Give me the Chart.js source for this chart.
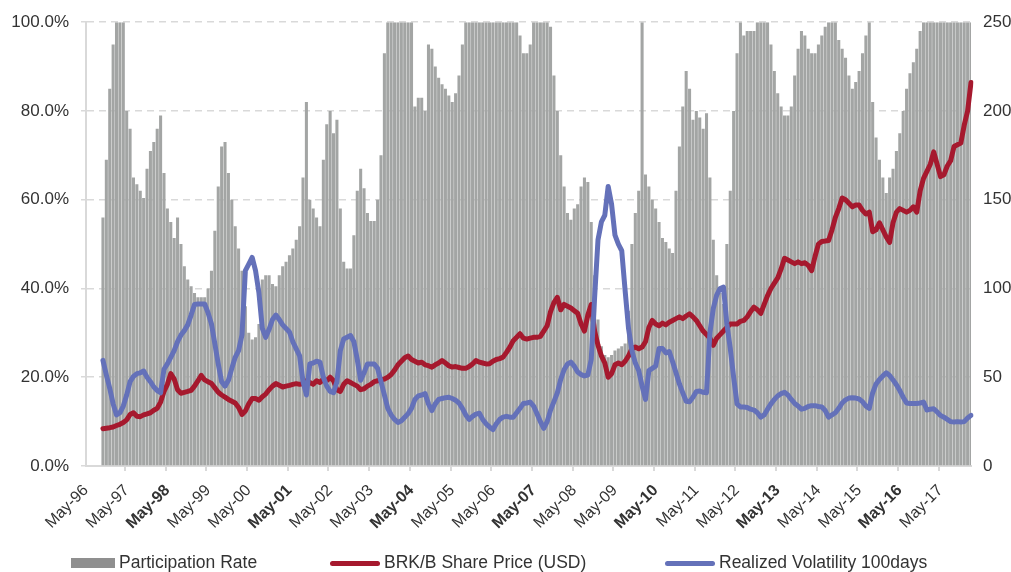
<!DOCTYPE html>
<html>
<head>
<meta charset="utf-8">
<script src="https://cdn.jsdelivr.net/npm/chart.js@4.4.1/dist/chart.umd.min.js"></script>
<style>
  html, body { margin: 0; padding: 0; background: #fff; }
  #wrap { position: relative; width: 1011px; height: 572px; }
  #legend { position: absolute; left: 0; top: 552px; width: 1011px; height: 20px;
            font-family: 'Liberation Sans', Arial, sans-serif; font-size: 17.5px; color: #333; }
  #legend .item { position: absolute; top: 0; height: 20px; line-height: 20px; white-space: nowrap; }
  #legend .sw { display: inline-block; vertical-align: middle; margin-right: 4px; }
  #legend .bar { width: 44px; height: 10px; }
  #legend .line { width: 50px; height: 5px; border-radius: 3px; }
</style>
</head>
<body>
<div id="wrap"><canvas id="chart"></canvas><div id="legend"></div></div>
<script>
// monthly points, May-96 .. Feb-18 (one row per year starting in May)
var monthNames = ["Jan","Feb","Mar","Apr","May","Jun","Jul","Aug","Sep","Oct","Nov","Dec"];
var firstYear = 1996, firstMonth = 4, nMonths = 262;

// participation rate, % (bars, left axis)
var participation = [
  null,null,null,null,null, 56, 69, 85, 95, 100, 100, 100,
  80, 76, 65, 63.5, 62, 60.4, 67, 71, 73, 76, 79, 66,
  58, 55, 51.4, 56, 50, 45, 42, 40.5, 39, 38, 38, 38,
  40, 44, 53, 63, 72, 73, 66, 60, 54, 49, 44, 36,
  30, 28.5, 29, 32, 42, 43, 43, 41, 40.5, 43, 45, 46,
  47.5, 49, 51, 54, 65, 82, 60, 58, 56, 54, 69, 77,
  80, 75, 78, 58, 46, 44.5, 44.5, 52, 62, 67, 62.6, 57,
  55.2, 55.2, 60, 70, 93, 100, 100, 100, 100, 100, 100, 100,
  100, 81, 83, 83, 80, 95, 94, 90, 87.5, 86, 85, 83.5,
  82, 84, 88, 95, 100, 100, 100, 100, 100, 100, 100, 100,
  100, 100, 100, 100, 100, 100, 100, 100, 97, 93, 93, 95,
  100, 100, 100, 100, 100, 99, 88, 80, 70, 63, 57, 55.5,
  58, 59, 63, 65, 64, 55, 43, 33, 27, 25, 24.5, 25,
  26, 26.5, 27, 27.6, 35, 50, 57, 62, 100, 65.7, 63, 60,
  58, 55, 51.4, 50.5, 49, 48, 62, 72, 81, 89, 85, 78,
  80, 78.5, 76, 79.5, 65, 51, 43, 39, 36.5, 50, 62, 80,
  93, 100, 97, 98, 98, 98, 100, 100, 100, 100, 95, 89,
  84, 81, 79, 79, 81, 88, 94, 98, 97, 94, 93, 93,
  95, 97, 99, 100, 100, 100, 96, 94, 92, 88, 85, 86.5,
  89, 93, 97, 100, 82, 74, 69, 65, 61.5, 65, 67, 71,
  75, 80, 85, 88.5, 91, 94, 98, 100, 100, 100, 100, 100,
  100, 100, 100, 100, 100, 100, 100, 100, 100, 100
];

// BRK/B share price, USD (right axis)
var sharePrice = [
  null,null,null,null,null, 21, 21.3, 21.6, 22, 22.8, 23.5, 24.5,
  26, 29, 30, 28, 27.8, 28.8, 29.4, 30, 31.4, 32.5, 36, 42,
  46, 52, 49, 43, 41, 41.5, 42, 42.6, 45, 48, 51, 48.5,
  47.5, 46.5, 44, 41.5, 40, 38.8, 37.5, 36.5, 35.5, 33, 29, 31,
  35, 38, 38, 37, 39, 40.5, 43, 45, 46.4, 45.5, 44.5, 45,
  45.4, 46, 46.4, 46, 46.4, 48, 47, 46, 48, 47, 49, 48,
  50, 48, 43, 42, 46, 48, 47, 46, 45, 43, 43.5, 45,
  46, 47.5, 48, 48.5, 49, 50, 51.5, 54, 57, 59, 61, 62,
  60, 59, 58, 58.5, 57, 56.5, 55.7, 57, 58, 59.4, 58, 56.5,
  55.7, 56, 55.5, 55, 55, 56, 57.5, 59.4, 58.5, 58, 57.5, 57.6,
  59, 60, 60.5, 61.3, 64, 67, 70.6, 72.5, 74.5, 72, 71.5, 72,
  72.5, 72.5, 73, 76, 79, 87, 92, 95, 88, 91, 90, 89,
  87.5, 86, 80, 76, 85, 91, 76, 68, 62, 58, 50, 52,
  57, 58, 57, 59, 62, 66, 67, 66, 67, 70, 78, 82,
  80, 79, 80.5, 79.5, 81, 82, 83, 84, 83, 84.5, 85.7, 84,
  82, 79, 76, 74, 72, 68, 72, 74, 76, 78, 80, 80,
  80, 81.5, 82, 84, 87, 89.5, 88, 86, 91, 96, 100, 103,
  106, 111, 117, 116, 115, 114, 115, 114, 114.5, 113, 110, 118,
  125, 126.5, 126.7, 127, 133, 140, 145, 151, 150, 148, 146, 147,
  147, 144, 142, 143, 132, 133, 137, 133, 129, 126, 137, 143,
  145, 144, 143, 144, 146, 143, 155, 162, 166, 170, 177, 170,
  163, 164, 169, 172, 180, 181, 182, 192, 200, 216
];

// realized volatility 100 days, % (left axis)
var volatility = [
  null,null,null,null,null, 23.8, 20.5, 17.5, 14, 11.5, 12, 13.5,
  16, 19, 20.2, 20.8, 21, 21.4, 20, 19, 17.8, 17, 16.5, 21.8,
  23, 24.5, 26, 28, 29.5, 30.5, 31.8, 34, 36.4, 36.5, 36.5, 36.5,
  34.5, 32, 27.5, 23, 19, 18, 19.3, 22, 24.5, 26, 29.5, 44,
  45.5, 47, 44, 39, 31, 29, 30.8, 33, 34, 33, 31.8, 31,
  30.2, 28, 26.4, 24.8, 19, 16, 23, 23.2, 23.6, 23.4, 20, 18,
  16.8, 16.5, 19, 26, 28.6, 29, 29.4, 28, 24, 19.3, 21, 23,
  23, 23, 22, 19, 16, 13, 11.5, 10.5, 9.8, 10.2, 11, 11.8,
  13, 15, 15.8, 16, 16.3, 14, 12.5, 14, 15, 15.2, 15.4, 15.5,
  15.2, 14.8, 14.2, 13, 11.5, 10.5, 11.2, 11.7, 11.9, 10.5, 9.5, 8.8,
  8.2, 9.5, 10.5, 11, 11.2, 11, 11, 12, 13, 14.1, 14.2, 14.4,
  13.5, 11.8, 10, 8.5, 10, 12.6, 14.5, 16.5, 19.5, 21.7, 23, 23.4,
  22.5, 21.2, 20.6, 20.3, 20.5, 24, 38, 51, 55, 56.5, 63, 59,
  52, 50, 48.5, 39.5, 31, 26, 23.2, 21.5, 18, 15, 21.5, 22,
  22.5, 26.5, 26.5, 25.5, 25.8, 23.5, 21, 18.5, 16.5, 14.6, 14.5, 15.5,
  16.8, 16.9, 16.6, 16.5, 30, 35.5, 38.5, 40, 40.3, 32, 26.5, 20,
  14, 13.3, 13.3, 13.2, 12.8, 12.6, 12, 11, 11.5, 12.8, 14, 15,
  15.8, 16.3, 16.6, 16, 15, 14.1, 13.5, 12.8, 13, 13.4, 13.6, 13.6,
  13.4, 13.3, 12.5, 11, 11.5, 12, 13, 14.2, 14.9, 15.3, 15.4, 15.3,
  15.1, 14.5, 13.5, 13, 16.5, 18.5, 19.5, 20.3, 21, 20.4, 19.4, 18.3,
  17, 15.5, 14.2, 14.1, 14.1, 14.1, 14.2, 14.4, 12.6, 12.8, 12.9, 12.2,
  11.4, 11, 10.5, 10, 9.9, 10, 9.9, 10, 10.8, 11.4
];

var pctTicks = [0, 20, 40, 60, 80, 100];
var priceTicks = [0, 50, 100, 150, 200, 250];

var labels = [];
for (var i = 0; i < nMonths; i++) {
  var mi = firstMonth + i;
  var yr = (firstYear + Math.floor(mi / 12)) % 100;
  labels.push(monthNames[mi % 12] + "-" + (yr < 10 ? "0" : "") + yr);
}

Chart.defaults.font.family = "'Liberation Sans', Arial, sans-serif";
Chart.defaults.color = "#333";

var ctx = document.getElementById("chart");
var myChart = new Chart(ctx, {
  type: 'bar',
  data: {
    labels: labels,
    datasets: [{
      type: 'bar',
      label: 'Participation Rate',
      data: participation,
      yAxisID: 'y',
      backgroundColor: '#a3a5a4',
      borderWidth: 0,
      barPercentage: 0.9,
      categoryPercentage: 1,
      order: 3
    }, {
      type: 'line',
      label: 'BRK/B Share Price (USD)',
      data: sharePrice,
      yAxisID: 'y1',
      borderColor: '#a6192e',
      backgroundColor: '#a6192e',
      borderWidth: 5,
      pointRadius: 0,
      tension: 0,
      borderJoinStyle: 'round',
      borderCapStyle: 'round',
      order: 2
    }, {
      type: 'line',
      label: 'Realized Volatility 100days',
      data: volatility,
      yAxisID: 'y',
      borderColor: '#6471b9',
      backgroundColor: '#6471b9',
      borderWidth: 5,
      pointRadius: 0,
      tension: 0,
      borderJoinStyle: 'round',
      borderCapStyle: 'round',
      order: 1
    }]
  },
  options: {
    responsive: true,
    maintainAspectRatio: false,
    animation: false,
    layout: { padding: { left: 0, right: 0, top: 12, bottom: 0 } },
    plugins: {
      tooltip: { enabled: false },
      legend: { display: false }
    },
    scales: {
      x: {
        type: 'category',
        offset: false,
        afterFit: function (s) { s.height = 106; },
        grid: {
          drawOnChartArea: false,
          drawTicks: true,
          tickLength: 5,
          lineWidth: 2,
          color: function (c) { return c.index % 12 === 0 ? '#d9d9d9' : 'rgba(0,0,0,0)'; }
        },
        border: { color: '#d9d9d9', width: 2 },
        ticks: {
          autoSkip: false,
          maxRotation: 45,
          minRotation: 45,
          padding: 10,
          color: '#333',
          font: function (c) {
            var yi = Math.floor(c.index / 12);
            return { size: 16, weight: (c.index % 12 === 0 && yi % 3 === 2) ? 'bold' : 'normal' };
          },
          callback: function (v, i) { return i % 12 === 0 ? this.getLabelForValue(v) : ''; }
        }
      },
      y: {
        position: 'left',
        min: pctTicks[0],
        max: pctTicks[pctTicks.length - 1],
        afterBuildTicks: function (s) { s.ticks = pctTicks.map(function (v) { return { value: v }; }); },
        afterFit: function (s) { s.width = 86; },
        grid: { color: '#d9d9d9', lineWidth: 1.5, tickLength: 5 },
        border: { color: '#d9d9d9', width: 2, dash: [7, 5] },
        ticks: {
          padding: 12,
          font: { size: 17 },
          color: '#333',
          callback: function (v) { return v.toFixed(1) + '%'; }
        }
      },
      y1: {
        position: 'right',
        min: priceTicks[0],
        max: priceTicks[priceTicks.length - 1],
        afterBuildTicks: function (s) { s.ticks = priceTicks.map(function (v) { return { value: v }; }); },
        afterFit: function (s) { s.width = 40; },
        grid: { drawOnChartArea: false, drawTicks: false },
        border: { display: false },
        ticks: { padding: 12, font: { size: 17 }, color: '#333' }
      }
    }
  }
});

// legend built from the datasets as plain html text
var legendLeft = [71, 330, 665];
var legendEl = document.getElementById('legend');
myChart.data.datasets.forEach(function (ds, k) {
  var item = document.createElement('div');
  item.className = 'item';
  item.style.left = legendLeft[k] + 'px';
  var sw = document.createElement('span');
  sw.className = 'sw ' + (ds.type === 'line' ? 'line' : 'bar');
  sw.style.background = ds.type === 'line' ? ds.borderColor : '#8f8f8f';
  var tx = document.createElement('span');
  tx.textContent = ds.label;
  item.appendChild(sw);
  item.appendChild(tx);
  legendEl.appendChild(item);
});
</script>
</body>
</html>
